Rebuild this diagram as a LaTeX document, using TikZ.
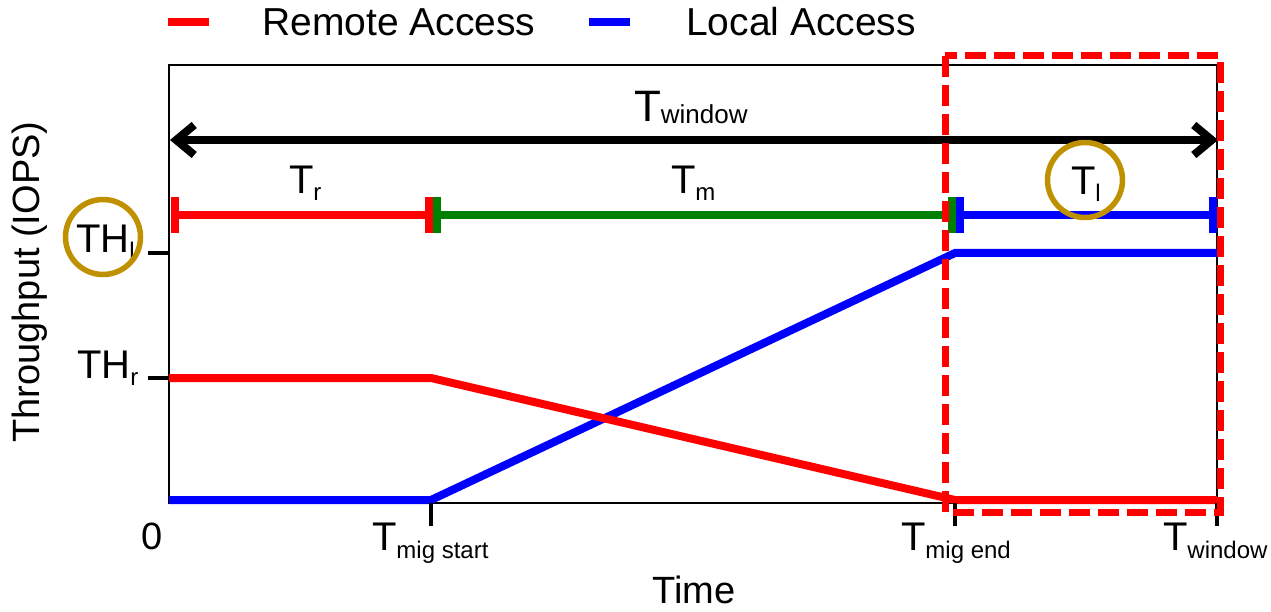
\documentclass[tikz,border=0pt]{standalone}
\usepackage{fontspec}
\setmainfont{Liberation Sans}
\usetikzlibrary{arrows.meta}
\definecolor{remote}{RGB}{255,0,0}
\definecolor{local}{RGB}{0,0,255}
\definecolor{migr}{RGB}{0,128,0}
\definecolor{ochre}{RGB}{191,144,0}
% main letter with a lowered subscript
\newcommand\tsub[3][8]{{\fontsize{40}{40}\selectfont #2}\raisebox{-#1pt}{\fontsize{24}{24}\selectfont #3}}
\begin{document}
\begin{tikzpicture}[x=1pt,y=-1pt,line join=miter,
  frame/.style={line width=1.5pt,black},
  tickmark/.style={line width=3.5pt,black},
  curve/.style={line width=8pt},
  span/.style={line width=8pt},
  capbar/.style={minimum width=8pt,minimum height=36pt,inner sep=0pt,outer sep=0pt,draw=none},
  ring/.style={circle,draw=ochre,line width=5.5pt,minimum size=75pt,inner sep=0pt},
  lab/.style={inner sep=0pt,outer sep=0pt,anchor=base west},
  axlab/.style={inner sep=0pt,font=\fontsize{38}{38}\selectfont},
  legtext/.style={inner sep=0pt,anchor=base west,font=\fontsize{39}{39}\selectfont},
  box/.style={remote,line width=7pt,dash pattern=on 21pt off 8pt}]
\useasboundingbox (0,0) rectangle (1271,612);

% plot frame
\coordinate (tl) at (169,65);
\coordinate (br) at (1217,503);
\draw[frame] (tl) rectangle (br);

% throughput curves
\coordinate (b0) at (169,500);
\coordinate (b1) at (431,500);
\coordinate (b2) at (955,253);
\coordinate (b3) at (1217,253);
\coordinate (r0) at (169,378);
\coordinate (r1) at (431,378);
\coordinate (r2) at (955,500);
\coordinate (r3) at (1217,500);
\draw[curve,local] (b0) -- (b1) -- (b2) -- (b3);
\draw[curve,remote] (r0) -- (r1) -- (r2) -- (r3);

% axis ticks
\coordinate (yl0) at (148,253); \coordinate (yl1) at (169,253);
\coordinate (yr0) at (148,378); \coordinate (yr1) at (169,378);
\draw[tickmark] (yl0) -- (yl1);
\draw[tickmark] (yr0) -- (yr1);
\coordinate (xs0) at (431,503); \coordinate (xs1) at (431,526);
\coordinate (xe0) at (955,503); \coordinate (xe1) at (955,526);
\coordinate (xw0) at (1217,503); \coordinate (xw1) at (1217,526);
\draw[tickmark] (xs0) -- (xs1);
\draw[tickmark] (xe0) -- (xe1);
\draw[tickmark] (xw0) -- (xw1);

% window arrow
\coordinate (wl) at (170,140);
\coordinate (wr) at (1218,140);
\draw[line width=8pt,{Straight Barb[length=18pt,width=30pt]}-{Straight Barb[length=18pt,width=30pt]}] (wl) -- (wr);
\node[lab] (twin) at (634,122) {{\fontsize{44}{44}\selectfont T}\raisebox{-2pt}{\fontsize{26}{26}\selectfont window}};

% phase spans
\coordinate (s0) at (175,215);
\coordinate (s1) at (431,215);
\coordinate (s2) at (955,215);
\coordinate (s3) at (1213,215);
\draw[span,remote] (s0) -- (s1);
\draw[span,migr] (s1) -- (s2);
\draw[span,local] (s2) -- (s3);
\node[capbar,fill=remote] (c0) at (175,215) {};
\node[capbar,fill=remote] (c1) at (429,215) {};
\node[capbar,fill=migr]   (c2) at (437,215) {};
\node[capbar,fill=migr]   (c3) at (952,215) {};
\node[capbar,fill=local]  (c4) at (960,215) {};
\node[capbar,fill=local]  (c5) at (1213,215) {};
\node[lab] (tr) at (289,194) {\tsub[7]{T}{r}};
\node[lab] (tm) at (671,194) {\tsub[7]{T}{m}};
\node[lab] (tlo) at (1071,195) {\tsub[7]{T}{l}};

% value labels
\node[lab] (thl) at (76,253) {\tsub[7]{TH}{l}};
\node[lab] (thr) at (77,378) {\tsub[7]{TH}{r}};
\node[axlab] (zero) at (152,536) {0};
\node[lab] (tms) at (372,550) {\tsub[8]{T}{mig start}};
\node[lab] (tme) at (901,550) {\tsub[8]{T}{mig end}};
\node[lab] (twb) at (1163,550) {\tsub[8]{T}{window}};

% axis titles
\node[axlab] (xtitle) at (694,590) {Time};
\node[axlab,rotate=90] (ytitle) at (30,282) {Throughput (IOPS)};

% highlight rings
\node[ring] (ringth) at (103,237) {};
\node[ring] (ringt) at (1085,180) {};

% local-access window
\coordinate (h0) at (945,56);
\coordinate (h1) at (1220,512);
\draw[box] (h0) rectangle (h1);

% legend
\coordinate (lr0) at (168,22); \coordinate (lr1) at (209,22);
\coordinate (lb0) at (589,22); \coordinate (lb1) at (630,22);
\draw[span,remote] (lr0) -- (lr1);
\draw[span,local] (lb0) -- (lb1);
\node[legtext] (legr) at (262,36) {Remote Access};
\node[legtext] (legb) at (686,36) {Local Access};
\end{tikzpicture}
\end{document}
